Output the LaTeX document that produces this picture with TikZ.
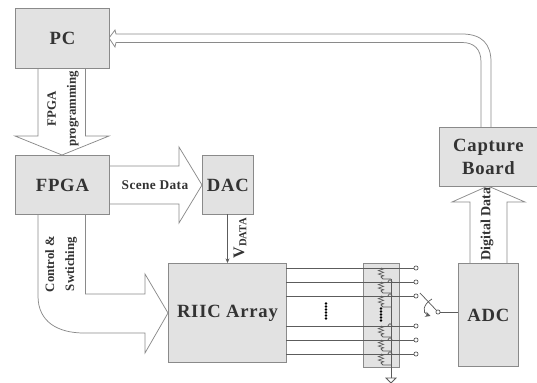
\documentclass[tikz,border=0pt]{standalone}
\usepackage{fontspec}
\setmainfont{Liberation Serif}
\usetikzlibrary{arrows.meta,decorations.pathmorphing}
\definecolor{boxfill}{HTML}{E2E2E2}
\definecolor{boxline}{HTML}{8A8A8A}
\definecolor{ink}{HTML}{333333}
\tikzset{
  x=0.75pt,y=-0.75pt,
  blockbox/.style={draw=boxline,fill=boxfill,line width=0.7pt,text=ink,font=\bfseries\fontsize{14}{16}\selectfont\addfontfeature{LetterSpace=4},align=center,inner sep=0pt},
  bigarrow/.style={draw=boxline,line width=0.55pt,fill=white,line join=miter},
  sig/.style={draw=ink!80,line width=0.55pt},
  tag/.style={text=ink,font=\bfseries\fontsize{9.6}{15}\selectfont,align=center,inner sep=0pt},
  portc/.style={circle,draw=ink,fill=white,line width=0.4pt,minimum size=3.2pt,inner sep=0pt},
  res/.style={draw=ink!80,line width=0.5pt,decorate,decoration={zigzag,segment length=2.6pt,amplitude=2pt}}
}
\begin{document}
\begin{tikzpicture}
\useasboundingbox (0,0) rectangle (537,383);
% hollow arrows (behind boxes)
\draw[bigarrow] (38,68) -- (38,136) -- (15,136) -- (62,155) -- (109,136) -- (85.5,136) -- (85.5,68);
\draw[bigarrow] (109,166) -- (179,166) -- (179,147) -- (202,185) -- (179,223) -- (179,204) -- (109,204);
\draw[bigarrow] (38,214) -- (38,296) .. controls (38,322) and (58,333) .. (84,333) -- (145,333) -- (145,353) -- (168,313) -- (145,274) -- (145,294) -- (85.5,294) -- (85.5,214);
\draw[bigarrow] (470,263) -- (470,202) -- (452,202) -- (488,186) -- (525,202) -- (507,202) -- (507,263);
\draw[bigarrow] (481,127) -- (481,62) .. controls (481,49) and (474,42.5) .. (462,42.5) -- (116,42.5) -- (115,47) -- (109,38) -- (115,30) -- (116,34) -- (462,34) .. controls (482,34) and (491,44) .. (491,62) -- (491,127);
% boxes
\node[blockbox,minimum width=94*0.75pt,minimum height=60*0.75pt,anchor=north west] (pc) at (15,8) {PC};
\node[blockbox,minimum width=94*0.75pt,minimum height=59*0.75pt,anchor=north west] (fpga) at (15,155) {FPGA};
\node[blockbox,minimum width=51*0.75pt,minimum height=59*0.75pt,anchor=north west] (dac) at (202,155) {DAC};
\node[blockbox,minimum width=118*0.75pt,minimum height=99*0.75pt,anchor=north west] (riic) at (168,263) {RIIC Array};
\node[blockbox,minimum width=98*0.75pt,minimum height=59*0.75pt,anchor=north west] (cap) at (439,127) {Capture\\[1pt]Board};
\node[blockbox,minimum width=60*0.75pt,minimum height=103*0.75pt,anchor=north west] (adc) at (458,263) {ADC};
\node[blockbox,minimum width=36*0.75pt,minimum height=104*0.75pt,anchor=north west] (rbox) at (363,263) {};
% labels
\node[tag,rotate=90] (l1) at (63,109) {FPGA\\programming};
\node[tag,font=\bfseries\fontsize{10}{12}\selectfont\addfontfeature{LetterSpace=3}] (l2) at (155,185) {Scene Data};
\node[tag,rotate=90] (l3) at (61,264) {Control \&\\Swtiching};
\node[tag,rotate=90,font=\bfseries\fontsize{10.5}{12}\selectfont] (l4) at (487,224) {Digital Data};
\node[tag,rotate=90,font=\bfseries\fontsize{12}{13}\selectfont] (l5) at (240,238) {V\textsubscript{DATA}};
% V data
\draw[sig,-{Stealth[length=3.5pt,width=3pt]}] (227.5,214) -- (227.5,263);
% lines + ports
\foreach \n/\y in {a/268,b/282,c/296,d/326,e/340,f/354}{
  \node[portc] (p\n) at (416,\y) {};
  \coordinate (s\n) at (286,\y);
  \draw[sig] (s\n) -- (p\n);
}
% resistors
\coordinate (gnd) at (391,378);
\draw[sig] (391,279) -- (gnd);
\foreach \y in {268,282,296,326,340,354}{
  \draw[res] (381,\y) -- (381,\y+9);
  \draw[sig] (381,\y+9) -- (383,\y+11) -- (391,\y+11);
}
\foreach \y in {282,296,326,340,354}{
  \draw[sig] (388,\y) .. controls (389,\y-3) and (391,\y-3) .. (392,\y);
}
% ground
\draw[sig] (386,378) -- (396,378) -- (391,383) -- cycle;
% dots
\foreach \y in {303,306,309,312,315,318}{
  \fill[black] (326,\y+0.5) circle (1pt);
}
\foreach \y in {309,312,315,318,321}{
  \fill[black] (381,\y-0.5) circle (1pt);
}
% switch
\node[portc] (piv) at (438,312) {};
\coordinate (armtip) at (420,293);
\draw[sig] (piv) -- (armtip);
\draw[sig] (piv) -- (adc.west |- piv);
\coordinate (curvea) at (432,299);
\coordinate (curveb) at (430.5,316);
\draw[sig,-{Stealth[length=4pt,width=4pt]}] (curvea) .. controls (423,304) and (422,313) .. (curveb);
\end{tikzpicture}
\end{document}
